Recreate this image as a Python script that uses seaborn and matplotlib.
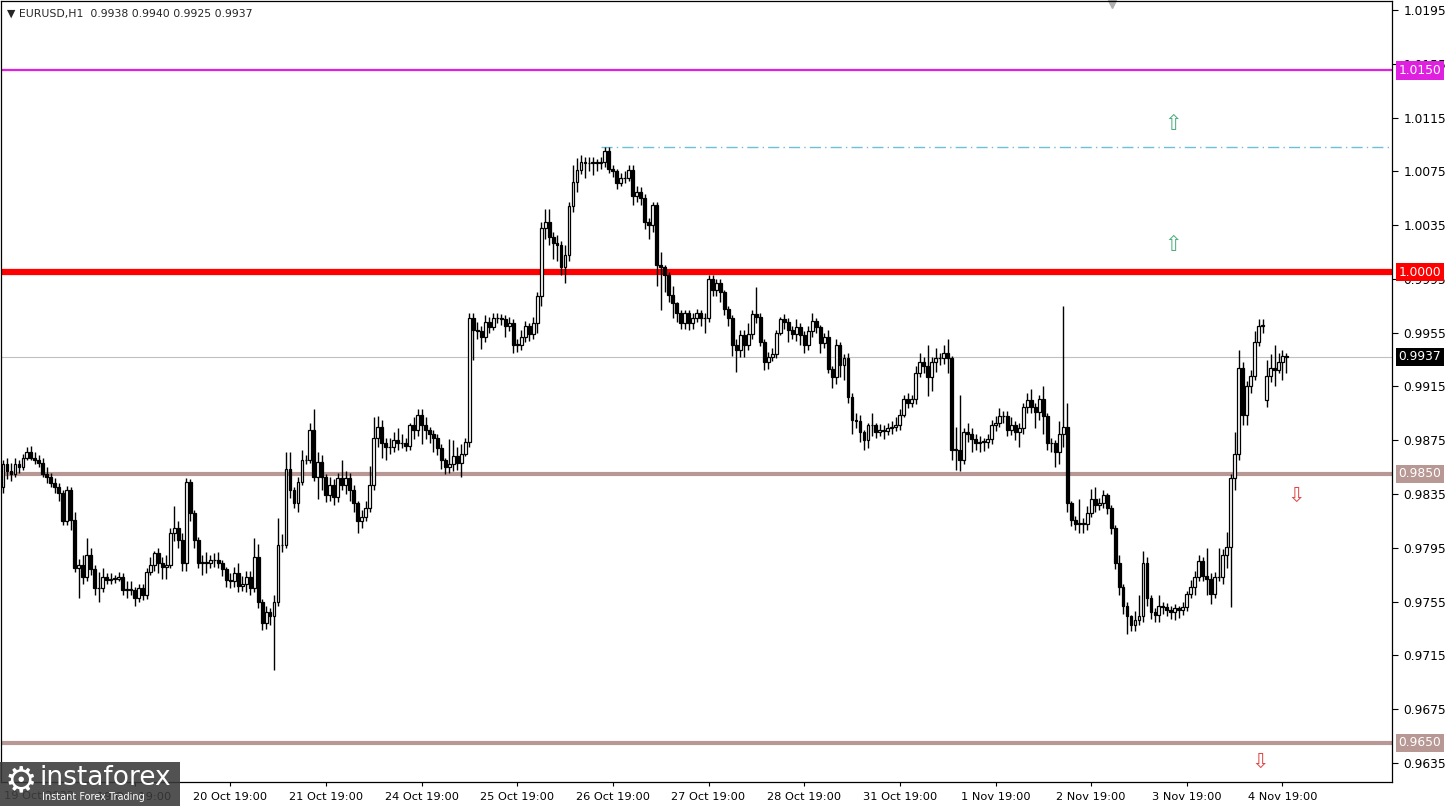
import numpy as np
import pandas as pd
import seaborn as sns
import matplotlib
matplotlib.use("Agg")
import matplotlib.pyplot as plt
import matplotlib.transforms as mtransforms
from matplotlib.patches import Rectangle

# EURUSD H1 candles, prices in pips (x 0.0001)
first_open = 9840
close_pips = [
    9857, 9852, 9850, 9857, 9855, 9862, 9866, 9862, 9860, 9858,
    9850, 9848, 9843, 9840, 9836, 9815, 9838, 9816, 9780, 9782,
    9773, 9790, 9779, 9765, 9765, 9773, 9771, 9772, 9772, 9773,
    9764, 9764, 9764, 9758, 9765, 9760, 9777, 9782, 9791, 9784,
    9781, 9782, 9806, 9810, 9801, 9784, 9844, 9821, 9801, 9784,
    9784, 9784, 9786, 9786, 9784, 9779, 9771, 9770, 9776, 9767,
    9768, 9773, 9765, 9788, 9755, 9739, 9747, 9744, 9755, 9797,
    9797, 9854, 9838, 9828, 9844, 9860, 9860, 9883, 9848, 9859,
    9848, 9834, 9842, 9833, 9847, 9842, 9847, 9838, 9828, 9815,
    9818, 9825, 9842, 9877, 9885, 9873, 9870, 9870, 9875, 9873,
    9873, 9871, 9886, 9883, 9894, 9886, 9883, 9880, 9877, 9869,
    9860, 9855, 9857, 9863, 9858, 9865, 9874, 9966, 9957, 9956,
    9952, 9963, 9959, 9966, 9966, 9965, 9960, 9962, 9946, 9946,
    9952, 9960, 9954, 9962, 9982, 10033, 10037, 10026, 10022, 10020,
    10004, 10013, 10049, 10067, 10076, 10082, 10081, 10081, 10082, 10081,
    10082, 10090, 10077, 10075, 10066, 10070, 10070, 10076, 10057, 10060,
    10055, 10037, 10035, 10050, 10005, 10004, 9998, 9983, 9977, 9970,
    9962, 9970, 9962, 9966, 9970, 9966, 9966, 9995, 9987, 9992,
    9985, 9973, 9966, 9946, 9942, 9953, 9946, 9954, 9969, 9967,
    9948, 9933, 9937, 9939, 9955, 9965, 9963, 9957, 9954, 9959,
    9953, 9946, 9956, 9964, 9959, 9947, 9952, 9928, 9922, 9946,
    9931, 9936, 9907, 9890, 9889, 9881, 9875, 9886, 9886, 9881,
    9883, 9882, 9884, 9885, 9886, 9894, 9906, 9903, 9906, 9925,
    9933, 9930, 9922, 9933, 9936, 9936, 9940, 9936, 9868, 9868,
    9860, 9881, 9880, 9876, 9873, 9874, 9874, 9876, 9886, 9888,
    9893, 9893, 9883, 9886, 9881, 9884, 9900, 9905, 9900, 9896,
    9906, 9893, 9873, 9873, 9866, 9880, 9885, 9828, 9816, 9813,
    9813, 9813, 9821, 9831, 9827, 9828, 9834, 9825, 9810, 9784,
    9766, 9752, 9744, 9738, 9741, 9744, 9784, 9758, 9747, 9745,
    9752, 9751, 9749, 9747, 9750, 9749, 9751, 9761, 9766, 9773,
    9785, 9774, 9772, 9761, 9773, 9773, 9790, 9796, 9847, 9865,
    9929, 9894, 9915, 9923, 9948, 9960, 9961, 9923, 9929, 9927,
    9933, 9938, 9937,
]
high_pips = [
    9860, 9862, 9858, 9862, 9860, 9865, 9870, 9871, 9866, 9864,
    9862, 9855, 9851, 9847, 9843, 9838, 9841, 9840, 9822, 9787,
    9790, 9802, 9795, 9782, 9777, 9780, 9776, 9776, 9775, 9777,
    9776, 9770, 9770, 9766, 9768, 9768, 9780, 9788, 9793, 9795,
    9788, 9790, 9810, 9826, 9815, 9806, 9847, 9846, 9823, 9803,
    9790, 9792, 9790, 9791, 9792, 9786, 9781, 9776, 9781, 9784,
    9774, 9778, 9778, 9802, 9798, 9757, 9752, 9750, 9760, 9817,
    9805, 9866, 9866, 9840, 9848, 9868, 9864, 9888, 9898, 9866,
    9864, 9850, 9848, 9846, 9851, 9860, 9852, 9851, 9842, 9830,
    9823, 9830, 9856, 9892, 9893, 9890, 9877, 9877, 9881, 9884,
    9880, 9877, 9888, 9892, 9898, 9898, 9892, 9885, 9883, 9880,
    9872, 9862, 9876, 9875, 9870, 9872, 9877, 9970, 9970, 9963,
    9960, 9968, 9967, 9970, 9970, 9969, 9968, 9967, 9965, 9950,
    9957, 9964, 9962, 9967, 9985, 10037, 10047, 10047, 10030, 10028,
    10023, 10020, 10052, 10080, 10085, 10087, 10086, 10086, 10086, 10084,
    10086, 10093, 10093, 10080, 10077, 10074, 10075, 10080, 10080, 10064,
    10063, 10058, 10040, 10052, 10052, 10015, 10005, 10000, 9990, 9978,
    9972, 9972, 9972, 9970, 9973, 9972, 9970, 9998, 9998, 9995,
    9995, 9987, 9975, 9968, 9950, 9957, 9957, 9962, 9972, 9989,
    9970, 9950, 9941, 9944, 9957, 9967, 9969, 9966, 9960, 9965,
    9962, 9956, 9960, 9970, 9966, 9961, 9955, 9957, 9930, 9950,
    9948, 9939, 9940, 9910, 9895, 9894, 9883, 9888, 9895, 9888,
    9887, 9886, 9888, 9889, 9892, 9898, 9909, 9910, 9909, 9930,
    9940, 9937, 9946, 9937, 9944, 9940, 9946, 9950, 9938, 9885,
    9909, 9884, 9888, 9884, 9880, 9878, 9877, 9880, 9890, 9893,
    9899, 9897, 9897, 9892, 9889, 9888, 9903, 9910, 9913, 9903,
    9909, 9915, 9895, 9877, 9875, 9889, 9975, 9903, 9830, 9819,
    9831, 9817, 9826, 9839, 9840, 9832, 9838, 9836, 9827, 9812,
    9790, 9768, 9755, 9745, 9748, 9760, 9793, 9788, 9760, 9750,
    9760, 9755, 9754, 9752, 9753, 9752, 9755, 9763, 9771, 9778,
    9790, 9788, 9795, 9776, 9777, 9795, 9794, 9807, 9850, 9881,
    9942, 9933, 9919, 9927, 9956, 9965, 9965, 9935, 9939, 9946,
    9940, 9942, 9940,
]
low_pips = [
    9836, 9846, 9845, 9848, 9851, 9853, 9860, 9860, 9857, 9855,
    9848, 9843, 9840, 9836, 9830, 9812, 9812, 9808, 9777, 9758,
    9768, 9770, 9775, 9760, 9755, 9762, 9768, 9768, 9769, 9770,
    9760, 9758, 9760, 9752, 9755, 9756, 9757, 9775, 9778, 9776,
    9772, 9772, 9780, 9800, 9795, 9778, 9778, 9815, 9795, 9780,
    9775, 9776, 9780, 9781, 9780, 9774, 9766, 9765, 9766, 9762,
    9763, 9762, 9760, 9762, 9750, 9734, 9735, 9738, 9704, 9752,
    9792, 9795, 9832, 9825, 9822, 9842, 9857, 9858, 9845, 9831,
    9838, 9829, 9830, 9827, 9829, 9838, 9835, 9830, 9822, 9806,
    9810, 9815, 9822, 9838, 9870, 9862, 9860, 9865, 9866, 9868,
    9869, 9867, 9868, 9876, 9878, 9872, 9876, 9873, 9866, 9864,
    9854, 9850, 9851, 9852, 9853, 9848, 9863, 9870, 9935, 9950,
    9943, 9948, 9955, 9957, 9962, 9961, 9952, 9956, 9940, 9941,
    9942, 9948, 9949, 9950, 9955, 9975, 10025, 10020, 10010, 10008,
    9998, 9992, 10008, 10045, 10060, 10073, 10070, 10075, 10072, 10075,
    10077, 10078, 10074, 10071, 10062, 10064, 10066, 10068, 10050, 10052,
    10050, 10032, 10025, 10030, 9990, 9972, 9985, 9978, 9966, 9963,
    9958, 9958, 9957, 9958, 9963, 9960, 9955, 9963, 9982, 9982,
    9978, 9968, 9960, 9938, 9926, 9937, 9937, 9942, 9950, 9962,
    9945, 9927, 9928, 9934, 9936, 9953, 9958, 9948, 9950, 9949,
    9946, 9940, 9942, 9952, 9955, 9940, 9944, 9925, 9914, 9917,
    9922, 9920, 9903, 9880, 9884, 9874, 9868, 9869, 9878, 9877,
    9878, 9876, 9879, 9880, 9882, 9883, 9892, 9899, 9900, 9902,
    9922, 9925, 9908, 9912, 9926, 9931, 9932, 9925, 9860, 9853,
    9852, 9857, 9874, 9866, 9868, 9866, 9867, 9869, 9872, 9882,
    9885, 9888, 9878, 9879, 9875, 9870, 9880, 9895, 9895, 9884,
    9890, 9880, 9868, 9866, 9855, 9857, 9870, 9822, 9811, 9808,
    9806, 9806, 9808, 9818, 9822, 9823, 9825, 9820, 9805, 9779,
    9760, 9746, 9731, 9733, 9733, 9738, 9740, 9752, 9742, 9740,
    9740, 9746, 9744, 9742, 9741, 9743, 9745, 9748, 9758, 9760,
    9770, 9770, 9760, 9753, 9758, 9770, 9768, 9780, 9751, 9838,
    9860, 9886, 9886, 9910, 9920, 9945, 9955, 9900, 9918, 9915,
    9925, 9920, 9925,
]
gap_opens = {317: 9905}

# date labels: 19:00 bar of each day (the first two sit under the logo)
day_labels = ["19 Oct 19:00", "20 Oct 19:00", "21 Oct 19:00", "24 Oct 19:00",
              "25 Oct 19:00", "26 Oct 19:00", "27 Oct 19:00", "28 Oct 19:00",
              "31 Oct 19:00", "1 Nov 19:00", "2 Nov 19:00", "3 Nov 19:00",
              "4 Nov 19:00"]
day_bar = [33, 57, 81, 105, 129, 153, 177, 201, 225, 249, 273, 297, 321]

price_ticks = [1.0195, 1.0155, 1.0115, 1.0075, 1.0035, 0.9995, 0.9955, 0.9915,
               0.9875, 0.9835, 0.9795, 0.9755, 0.9715, 0.9675, 0.9635]

level_prices = [1.0150, 1.0000, 0.9850, 0.9650]
level_colors = ["#e020e0", "#ff0000", "#b89894", "#b89894"]
level_widths = [1.6, 4.5, 3.0, 3.0]
current_price = 0.9937
high_level = 1.0093
high_bar = 151

# ---------------------------------------------------------------
df = pd.DataFrame({"close": np.array(close_pips) / 10000,
                   "high": np.array(high_pips) / 10000,
                   "low": np.array(low_pips) / 10000})
opens = [first_open] + close_pips[:-1]
for k, v in gap_opens.items():
    opens[k] = v
df["open"] = np.array(opens) / 10000
df["x"] = np.arange(len(df))

sns.set_style("white")
plt.rcParams["font.family"] = ["DejaVu Sans"]

fig = plt.figure(figsize=(14.48, 8.06), dpi=100)
ax = fig.add_axes([0.0007, 0.0298, 0.9607, 0.969])

# levels
for p, col, lw in zip(level_prices, level_colors, level_widths):
    ax.axhline(p, color=col, lw=lw, zorder=1)
ax.axhline(current_price, color="#c0c0c0", lw=0.8, zorder=1)
ax.hlines(high_level, high_bar - 1, 360, colors="#6cc0d8", lw=1,
          linestyles=(0, (8, 3, 1, 3)), zorder=1)

# candles
ax.vlines(df.x, df.low, df.high, color="black", lw=1, zorder=2)
up = df.close >= df.open
body = (df.close - df.open).abs().clip(lower=0.00003)
bottom = df[["open", "close"]].min(axis=1)
ax.bar(df.x[up], body[up], bottom=bottom[up], width=0.72,
       facecolor="white", edgecolor="black", lw=0.9, zorder=3)
ax.bar(df.x[~up], body[~up], bottom=bottom[~up], width=0.72,
       facecolor="black", edgecolor="black", lw=0.9, zorder=3)

ax.set_xlim(-0.5, 348.5)
ax.set_ylim(0.96209, 1.02017)

ax.yaxis.tick_right()
ax.set_yticks(price_ticks)
ax.set_yticklabels(["%.4f" % t for t in price_ticks])
ax.tick_params(axis="y", direction="out", length=4, width=0.8, pad=4,
               labelsize=8.8, colors="black", right=True)
ax.set_xticks(day_bar)
ax.set_xticklabels(day_labels)
ax.tick_params(axis="x", direction="out", length=3, width=0.8, pad=4,
               labelsize=8.2, colors="black", bottom=True)
for s in ax.spines.values():
    s.set_color("black")
    s.set_linewidth(0.9)

# price boxes on the scale
trans = mtransforms.blended_transform_factory(ax.transAxes, ax.transData)
box_items = list(zip(level_prices, level_colors)) + [(current_price, "black")]
for p, col in box_items:
    ax.text(1.0045, p, "%.4f" % p, transform=trans, ha="left", va="center",
            fontsize=8.8, color="white", clip_on=False, zorder=6,
            bbox=dict(boxstyle="square,pad=0.22", fc=col, ec="none"))

# arrows
ax.text(293.6, 1.0110, "\u21e7", color="#4caf7d", fontsize=15, ha="center", va="center")
ax.text(293.6, 1.0020, "\u21e7", color="#4caf7d", fontsize=15, ha="center", va="center")
ax.text(324.5, 0.9834, "\u21e9", color="#e04848", fontsize=15, ha="center", va="center")
ax.text(315.4, 0.9636, "\u21e9", color="#e04848", fontsize=15, ha="center", va="center")

# shift marker at top
ax.plot([278.3], [0.996], marker="v", color="#b0b0b0", ms=6,
        transform=mtransforms.blended_transform_factory(ax.transData, ax.transAxes),
        clip_on=False)

# header
ax.text(0.004, 0.984, "\u25bc EURUSD,H1  0.9938 0.9940 0.9925 0.9937",
        transform=ax.transAxes, fontsize=7.8, ha="left", va="center")
fig.text(4 / 1448, 1 - 796 / 806, "19 Oct 2022", fontsize=8.2, ha="left", va="center")

# logo
fig.add_artist(Rectangle((0, 0), 180 / 1448, 44 / 806, transform=fig.transFigure,
                         fc="#3a3a3a", ec="none", alpha=0.88, zorder=10))
fig.text(21 / 1448, 1 - 781 / 806, "\u2699", color="white", fontsize=26,
         ha="center", va="center", zorder=11)
fig.text(40 / 1448, 1 - 778 / 806, "instaforex", color="white", fontsize=19,
         ha="left", va="center", zorder=11)
fig.text(42 / 1448, 1 - 797 / 806, "Instant Forex Trading", color="white",
         fontsize=7, ha="left", va="center", zorder=11)

fig.savefig("out.png", dpi=100, facecolor="white")
